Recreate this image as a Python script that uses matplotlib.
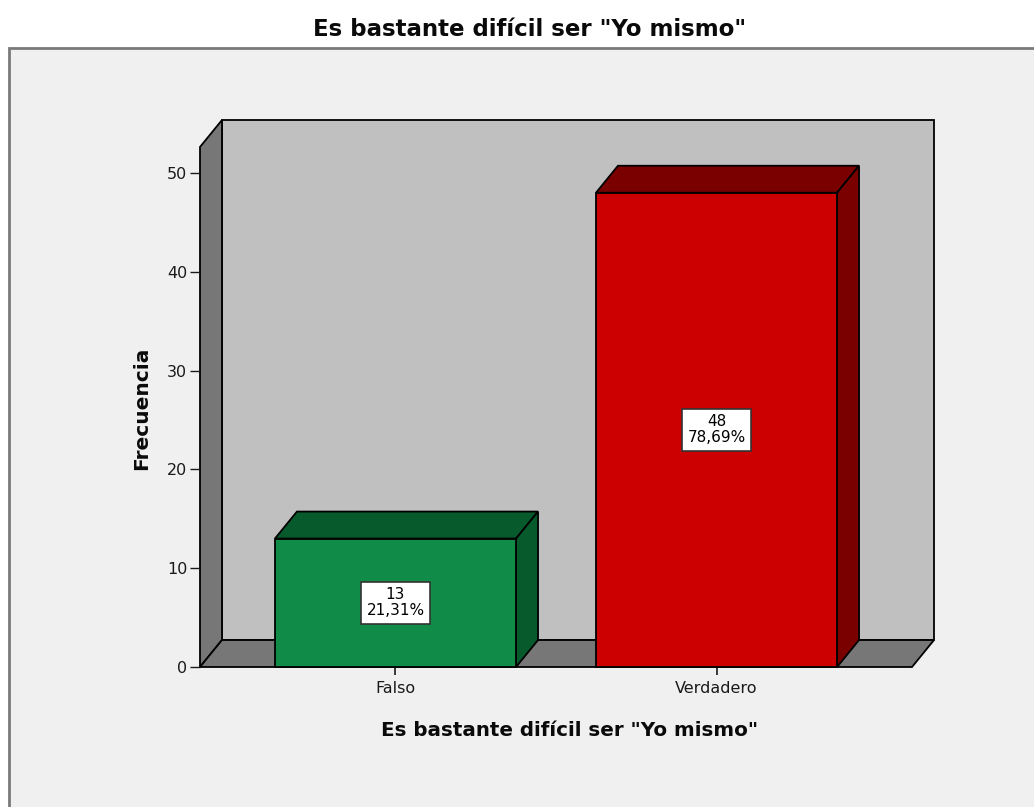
import numpy as np
import matplotlib.pyplot as plt
from matplotlib.patches import Polygon, Rectangle

# datos
categorias = ['Falso', 'Verdadero']
frecuencias = [13, 48]
porcentajes = [21.31, 78.69]
titulo = 'Es bastante difícil ser "Yo mismo"'
yticks = [0, 10, 20, 30, 40, 50]

# colores (cara frontal, cara superior/lateral)
col_frente = ['#108c48', '#cc0000']
col_lado = ['#075a2c', '#7a0000']

W, H = 1034, 807
fig = plt.figure(figsize=(W / 100, H / 100), dpi=100)
fig.patch.set_facecolor('white')

# panel gris de fondo
fig.patches.append(Rectangle((9 / W, -0.02), 1.0, (H - 48) / H + 0.02,
                             transform=fig.transFigure, facecolor='#f0f0f0',
                             edgecolor='#7a7a7a', lw=2, zorder=-5))

ax = fig.add_axes([200 / W, (H - 667) / H, (934 - 200) / W, (667 - 120) / H])
ax.set_zorder(2)
ax.set_facecolor('none')
for s in ax.spines.values():
    s.set_visible(False)

# geometria 3D
x0, x1 = -0.609, 1.609     # borde izq/der del suelo frontal
dx, dy = 0.0685, 2.73      # profundidad
top = 52.63                # altura frontal de la pared
bw = 0.751                 # ancho de barra
ec = '#000000'
lw = 1.3

ax.set_xlim(x0, x1 + dx)
ax.set_ylim(0, top + dy)


def cara(puntos, color, z):
    ax.add_patch(Polygon(puntos, closed=True, fc=color, ec=ec, lw=lw,
                         joinstyle='miter', zorder=z, clip_on=False))


# pared trasera, lateral y suelo
cara([(x0 + dx, dy), (x1 + dx, dy), (x1 + dx, top + dy), (x0 + dx, top + dy)], '#c0c0c0', 1)
cara([(x0, 0), (x0 + dx, dy), (x0 + dx, top + dy), (x0, top)], '#777777', 1)
cara([(x0, 0), (x1, 0), (x1 + dx, dy), (x0 + dx, dy)], '#777777', 1)

for i, (f, p) in enumerate(zip(frecuencias, porcentajes)):
    l, r = i - bw / 2, i + bw / 2
    cara([(l, f), (r, f), (r + dx, f + dy), (l + dx, f + dy)], col_lado[i], 2)
    cara([(r, 0), (r + dx, dy), (r + dx, f + dy), (r, f)], col_lado[i], 2)
    cara([(l, 0), (r, 0), (r, f), (l, f)], col_frente[i], 3)
    etiqueta = f'{f}\n{p:.2f}%'.replace('.', ',')
    ax.text(i, f / 2, etiqueta, ha='center', va='center', fontsize=11,
            linespacing=1.1, zorder=4,
            bbox=dict(boxstyle='square,pad=0.35', fc='white', ec='#333333', lw=1.2))

ax.set_yticks(yticks)
ax.set_yticklabels([str(t) for t in yticks], fontsize=11.5, color='#1a1a1a')
ax.set_xticks(range(len(categorias)))
ax.set_xticklabels(categorias, fontsize=11.5, color='#1a1a1a')
ax.tick_params(axis='y', length=7.2, width=1, pad=2, color='#1a1a1a')
ax.tick_params(axis='x', length=6, width=1.2, pad=4, color='#1a1a1a')

fig.text(530 / W, 1 - 30 / H, titulo, ha='center', va='center',
         fontsize=16.5, fontweight='bold', color='#0a0a0a')
fig.text(570 / W, 1 - 730 / H, titulo, ha='center', va='center',
         fontsize=14.3, fontweight='bold', color='#0a0a0a')
fig.text(142 / W, 1 - 408 / H, 'Frecuencia', ha='center', va='center',
         rotation=90, fontsize=14.5, fontweight='bold', color='#0a0a0a')

fig.savefig('out.png', dpi=100, facecolor=fig.get_facecolor())
